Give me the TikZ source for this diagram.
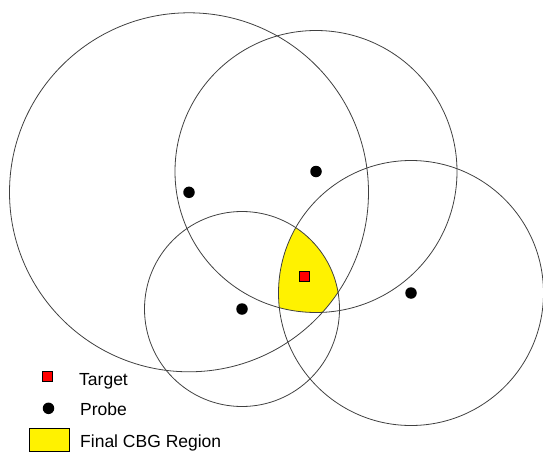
\documentclass[tikz,border=0pt]{standalone}
\usepackage{fontspec}
\setmainfont{Liberation Sans}
\begin{document}
\begin{tikzpicture}[x=1pt,y=-1pt,
  ring/.style={draw=black!75, line width=0.8pt},
  probe/.style={circle, fill=black, inner sep=0pt, minimum size=11.5pt},
  target/.style={rectangle, draw=black, fill=red, line width=0.5pt, inner sep=0pt, minimum size=10pt},
  legtext/.style={anchor=base west, inner sep=0pt, font=\fontsize{17.5}{20}\selectfont},
  cbg/.style={fill=yellow}]
\useasboundingbox (0,0) rectangle (543,452);
\coordinate (c1) at (189,192.3);
\coordinate (c2) at (316,171.5);
\coordinate (c3) at (242,309);
\coordinate (c4) at (411,293);
% final CBG region
\begin{scope}
  \clip (c2) circle[radius=141];
  \clip (c3) circle[radius=97.5];
  \clip (c4) circle[radius=132.5];
  \fill[cbg] (c1) circle[radius=179.5];
\end{scope}
% circles
\draw[ring] (c1) circle[radius=179.5];
\draw[ring] (c2) circle[radius=141];
\draw[ring] (c3) circle[radius=97.5];
\draw[ring] (c4) circle[radius=132.5];
% probes
\node[probe] (p1) at (c1) {};
\node[probe] (p2) at (c2) {};
\node[probe] (p3) at (c3) {};
\node[probe] (p4) at (c4) {};
% target
\node[target] (t) at (304.5,276.5) {};
% legend
\node[target] (lt) at (47.5,376.7) {};
\node[legtext] (ltt) at (79,385) {Target};
\node[probe] (lp) at (48.5,408.3) {};
\node[legtext] (lpt) at (80,415) {Probe};
\node[draw=black, line width=0.5pt, cbg, minimum width=40pt, minimum height=22.5pt, inner sep=0pt] (lr) at (49.3,439.5) {};
\node[legtext] (lrt) at (80,447) {Final CBG Region};
\end{tikzpicture}
\end{document}
